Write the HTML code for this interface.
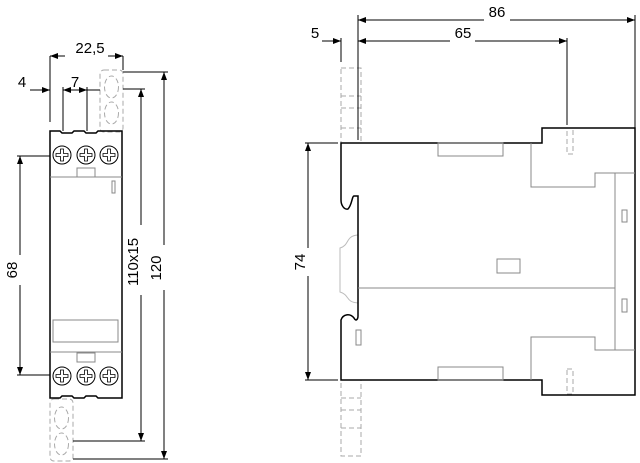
<!DOCTYPE html>
<html><head><meta charset="utf-8"><style>
html,body{margin:0;padding:0;background:#fff;width:640px;height:463px;overflow:hidden}
text{font-family:"Liberation Sans",sans-serif;font-size:15px;fill:#000}
</style></head><body>
<svg width="640" height="463" viewBox="0 0 640 463" xmlns="http://www.w3.org/2000/svg">
<defs>
<marker id="a" markerWidth="8" markerHeight="6" refX="8" refY="3" orient="auto-start-reverse" markerUnits="userSpaceOnUse"><path d="M0,0 L8,3 L0,6z" fill="#000"/></marker>
<g id="scr"><circle r="9" fill="#fff" stroke="#000" stroke-width="1"/><path d="M-6,-1.5h4.5v-4.5h3v4.5h4.5v3h-4.5v4.5h-3v-4.5h-4.5z" fill="none" stroke="#000" stroke-width="0.8"/></g>
</defs>
<!-- LEFT VIEW -->
<g fill="none" stroke="#aaa" stroke-width="1" stroke-dasharray="5,3">
<rect x="100" y="70" width="23" height="62" rx="4"/>
<ellipse cx="111.5" cy="87" rx="7" ry="11"/>
<ellipse cx="111.5" cy="113" rx="7" ry="11"/>
<rect x="50" y="399" width="23" height="62" rx="4"/>
<ellipse cx="61.5" cy="418" rx="7" ry="11"/>
<ellipse cx="61.5" cy="444" rx="7" ry="11"/>
</g>
<path d="M50,131 H60 L62,133 H72 L74,131 H84 L86,133 H96 L98,131 H122 V398 H98 L96,396 H86 L84,398 H74 L72,396 H62 L60,398 H50 Z" fill="none" stroke="#000" stroke-width="1.5"/>
<g stroke="#888" fill="none" stroke-width="1">
<line x1="50" y1="177" x2="122" y2="177"/><line x1="50" y1="352" x2="122" y2="352"/>
<rect x="77" y="168" width="18" height="9"/><rect x="77" y="353" width="18" height="9"/>
<rect x="112" y="181" width="3" height="12"/>
<rect x="53" y="320" width="65" height="22"/>
</g>
<use href="#scr" x="62" y="155"/><use href="#scr" x="86" y="155"/><use href="#scr" x="109" y="155"/>
<use href="#scr" x="62" y="376"/><use href="#scr" x="86" y="376"/><use href="#scr" x="109" y="376"/>
<g stroke="#000" stroke-width="1" fill="none">
<line x1="50" y1="56" x2="50" y2="122"/><line x1="123" y1="56" x2="123" y2="70"/>
<line x1="50" y1="56" x2="65" y2="56" marker-start="url(#a)"/><line x1="108" y1="56" x2="123" y2="56" marker-end="url(#a)"/>
<line x1="30" y1="90" x2="50" y2="90" marker-end="url(#a)"/>
<line x1="63" y1="90" x2="87" y2="90" marker-start="url(#a)" marker-end="url(#a)"/><line x1="87" y1="90" x2="100" y2="90"/>
<line x1="63" y1="87" x2="63" y2="131"/><line x1="87" y1="87" x2="87" y2="131"/>
<line x1="17" y1="156" x2="50" y2="156"/><line x1="17" y1="375" x2="50" y2="375"/>
<line x1="20" y1="156" x2="20" y2="255" marker-start="url(#a)"/><line x1="20" y1="285" x2="20" y2="375" marker-end="url(#a)"/>
<line x1="123" y1="89" x2="145" y2="89"/><line x1="73" y1="441" x2="145" y2="441"/>
<line x1="141" y1="89" x2="141" y2="225" marker-start="url(#a)"/><line x1="141" y1="295" x2="141" y2="441" marker-end="url(#a)"/>
<line x1="123" y1="72" x2="168" y2="72"/><line x1="73" y1="459" x2="168" y2="459"/>
<line x1="164" y1="72" x2="164" y2="245" marker-start="url(#a)"/><line x1="164" y1="290" x2="164" y2="459" marker-end="url(#a)"/>
</g>
<text x="90" y="53" text-anchor="middle">22,5</text>
<text x="22" y="87" text-anchor="middle">4</text>
<text x="75" y="87" text-anchor="middle">7</text>
<text transform="translate(17,270) rotate(-90)" text-anchor="middle">68</text>
<text transform="translate(138,262) rotate(-90)" text-anchor="middle">110x15</text>
<text transform="translate(161,268) rotate(-90)" text-anchor="middle">120</text>
<!-- RIGHT VIEW -->
<g fill="none" stroke="#aaa" stroke-width="1" stroke-dasharray="5,3">
<rect x="341" y="68" width="20" height="75"/>
<line x1="341" y1="96" x2="361" y2="96"/><line x1="341" y1="108" x2="361" y2="108"/><line x1="341" y1="128" x2="361" y2="128"/>
<rect x="341" y="380" width="20" height="76"/>
<line x1="341" y1="398" x2="361" y2="398"/><line x1="341" y1="410" x2="361" y2="410"/><line x1="341" y1="428" x2="361" y2="428"/>
<rect x="567" y="128" width="6" height="26"/><rect x="567" y="369" width="6" height="25"/>
</g>
<path d="M358,235 C345,236 350,245 340,248 V292 C350,295 345,302 358,303" fill="none" stroke="#bbb" stroke-width="1"/>
<path d="M341,143 H542 V128 H635 V395 H542 V380 H341 V320 C343,314 350,313 354,318 C356,322 358,319 358,316 V196 H354 C352,196 352,205 348,209 C344,210 341,205 341,200 Z" fill="none" stroke="#000" stroke-width="1.5"/>
<g stroke="#888" fill="none" stroke-width="1">
<rect x="438" y="143" width="65" height="13"/><rect x="438" y="367" width="65" height="13"/>
<path d="M531,143 V187 H595 V173 H635"/><path d="M531,380 V337 H595 V350 H635"/>
<line x1="615" y1="173" x2="615" y2="350"/>
<line x1="358" y1="288" x2="615" y2="288"/>
<rect x="622" y="210" width="5" height="12"/><rect x="622" y="299" width="5" height="13"/>
<rect x="356" y="330" width="5" height="15"/>
<rect x="497" y="259" width="23" height="14"/>
</g>
<g stroke="#000" stroke-width="1" fill="none">
<line x1="358" y1="15" x2="358" y2="140"/><line x1="341" y1="38" x2="341" y2="62"/>
<line x1="567" y1="38" x2="567" y2="125"/><line x1="635" y1="15" x2="635" y2="128"/>
<line x1="358" y1="20" x2="484" y2="20" marker-start="url(#a)"/><line x1="510" y1="20" x2="635" y2="20" marker-end="url(#a)"/>
<line x1="358" y1="41" x2="450" y2="41" marker-start="url(#a)"/><line x1="475" y1="41" x2="567" y2="41" marker-end="url(#a)"/>
<line x1="322" y1="41" x2="341" y2="41" marker-end="url(#a)"/>
<line x1="305" y1="143" x2="338" y2="143"/><line x1="305" y1="380" x2="338" y2="380"/>
<line x1="308" y1="143" x2="308" y2="248" marker-start="url(#a)"/><line x1="308" y1="276" x2="308" y2="380" marker-end="url(#a)"/>
</g>
<text x="497" y="17" text-anchor="middle">86</text>
<text x="463" y="38" text-anchor="middle">65</text>
<text x="315" y="38" text-anchor="middle">5</text>
<text transform="translate(305,262) rotate(-90)" text-anchor="middle">74</text>
</svg>
</body></html>
